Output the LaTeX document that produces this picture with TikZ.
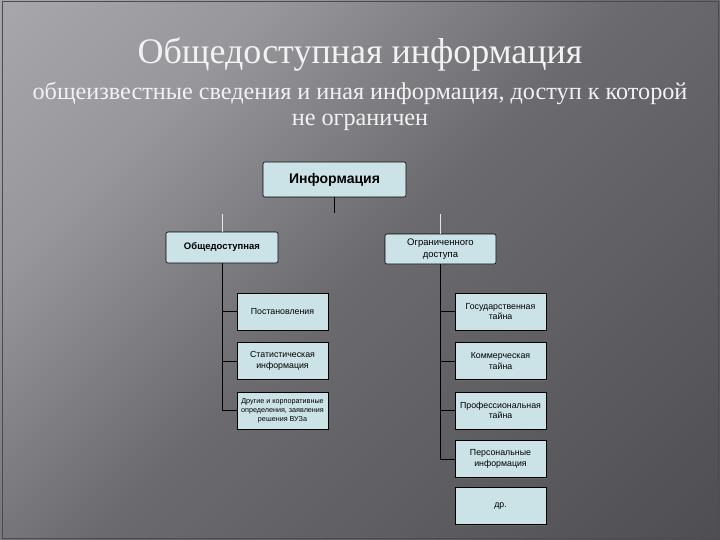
\documentclass[tikz,border=0pt]{standalone}
\usepackage{fontspec}
\setmainfont{Liberation Serif}
\setsansfont{Liberation Sans}
\usetikzlibrary{shadows}
\definecolor{boxcol}{RGB}{203,227,230}
\definecolor{bgone}{RGB}{166,166,171}
\definecolor{bgtwo}{RGB}{150,150,155}
\definecolor{bgthree}{RGB}{106,106,111}
\definecolor{bgfour}{RGB}{78,78,83}
\definecolor{titlecol}{RGB}{242,242,242}
\pgfdeclarehorizontalshading{achter}{100bp}{color(0bp)=(bgone); color(15bp)=(bgone); color(30bp)=(bgtwo); color(50bp)=(bgthree); color(85bp)=(bgfour); color(100bp)=(bgfour)}

\begin{document}
\begin{tikzpicture}[
       x=1pt,y=-1pt,
       blok/.style={
         draw=black,
         fill=boxcol,
         line width=0.6pt,
         align=center,
         inner sep=1pt,
         font=\sffamily\fontsize{8.8}{10.5}\selectfont,
         minimum width=91pt,
         minimum height=37pt,
         drop shadow={opacity=0.45,shadow xshift=1pt,shadow yshift=-1pt}
       },
       kop/.style={
         blok,
         rounded corners=2pt,
         minimum width=111pt,
         minimum height=30pt
       },
       tak/.style={black,line width=0.7pt}
     ]
% background
\shade[shading=achter,shading angle=-45] (0,0) rectangle (720,540);
\draw[black!70,line width=1pt] (2,2) rectangle (718,538);
\useasboundingbox (0,0) rectangle (720,540);

% titles
\node[anchor=base,text=titlecol,font=\fontsize{36}{40}\selectfont] (titel) at (360,64) {Общедоступная информация};
\node[anchor=base,text=titlecol,font=\fontsize{24.2}{28}\selectfont] (sub1) at (360,100) {общеизвестные сведения и иная информация, доступ к которой};
\node[anchor=base,text=titlecol,font=\fontsize{24.2}{28}\selectfont] (sub2) at (360,126) {не ограничен};

% top of the tree
\node[kop,minimum width=143pt,minimum height=35pt,font=\sffamily\bfseries\fontsize{14}{16}\selectfont] (info) at (334.5,179.5) {Информация};
\node[kop,minimum width=112pt,minimum height=31pt,font=\sffamily\bfseries\fontsize{9.5}{11}\selectfont] (obsh) at (222,247.5) {Общедоступная};
\node[kop,font=\sffamily\fontsize{9.5}{11.5}\selectfont] (ogr) at (440.5,249) {Ограниченного\\доступа};

\coordinate (split) at (334.5,213);
\coordinate (lsplit) at (222,214);
\coordinate (rsplit) at (440.5,214);
\draw[tak] (info.south) -- (split);
\draw[white!90!black,line width=0.7pt] (lsplit) -- (obsh.north);
\draw[white!90!black,line width=0.7pt] (rsplit) -- (ogr.north);

% left column
\node[blok] (post) at (282.5,311.5) {Постановления};
\node[blok] (stat) at (282.5,361) {Статистическая\\информация};
\node[blok,font=\sffamily\fontsize{7.2}{9}\selectfont] (drug) at (282.5,410.5) {Другие и корпоративные\\определения, заявления\\решения ВУЗа};

\draw[tak] (obsh.south) |- (post.west);
\draw[tak] (obsh.south) |- (stat.west);
\draw[tak] (obsh.south) |- (drug.west);

% right column
\node[blok] (gos) at (500.5,311.5) {Государственная\\тайна};
\node[blok] (kom) at (500.5,361) {Коммерческая\\тайна};
\node[blok] (prof) at (500.5,410.5) {Профессиональная\\тайна};
\node[blok] (pers) at (500.5,459) {Персональные\\информация};
\node[blok] (dr) at (500.5,506) {др.};

\draw[tak] (ogr.south) |- (gos.west);
\draw[tak] (ogr.south) |- (kom.west);
\draw[tak] (ogr.south) |- (prof.west);
\draw[tak] (ogr.south) |- (pers.west);

\end{tikzpicture}
\end{document}
